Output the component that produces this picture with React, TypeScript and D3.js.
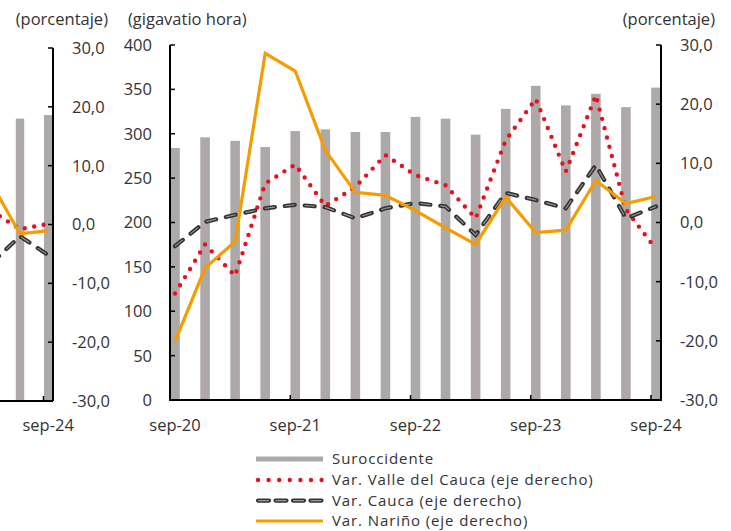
import React from "react";
import * as d3 from "d3";

// ---------- DATA ----------
const quarters = ["sep-20","dic-20","mar-21","jun-21","sep-21","dic-21","mar-22","jun-22","sep-22","dic-22","mar-23","jun-23","sep-23","dic-23","mar-24","jun-24","sep-24"];
const suroccidente = [284, 296, 292, 285, 303, 305, 302, 302, 319, 317, 299, 328, 354, 332, 345, 330, 352];
const varValle = [-12.0, -3.7, -9.0, 6.6, 9.8, 2.8, 6.0, 11.4, 8.0, 6.3, 0.7, 13.9, 20.9, 8.6, 21.5, 2.2, -4.5];
const varCauca = [-4.0, 0.1, 1.3, 2.4, 3.0, 2.6, 0.7, 2.4, 3.3, 2.7, -2.1, 5.0, 3.8, 2.4, 9.7, 0.7, 2.7];
const varNarino = [-20.1, -7.7, -3.2, 28.6, 25.6, 12.2, 5.1, 4.6, 2.0, -0.9, -3.7, 4.3, -1.7, -1.3, 7.1, 3.2, 4.4];
const yearTicks = ["sep-20","sep-21","sep-22","sep-23","sep-24"];
const leftTicks = [0, 50, 100, 150, 200, 250, 300, 350, 400];
const pctTicks = [30, 20, 10, 0, -10, -20, -30];

// previous (cropped) panel: mar-24 (off-canvas), jun-24, sep-24
const prevQuarters = ["mar-24","jun-24","sep-24"];
const prevBars = [330, 320, 324];
const prevValle = [2.3, -0.8, 0.1];
const prevCauca = [-6.5, -2.0, -5.2];
const prevNarino = [6.9, -1.6, -1.05];

const legendItems = ["Suroccidente","Var. Valle del Cauca (eje derecho)","Var. Cauca (eje derecho)","Var. Nariño (eje derecho)"];

// ---------- STYLE ----------
const FONT = "'Open Sans', 'Noto Sans', sans-serif";
const FS = 16.5;
const LFS = 15;
const BAR = "#ADA9A8";
const RED = "#E8101E";
const ORANGE = "#F59C00";
const DARK = "#333333";
const TXT = "#333333";

export default function App() {
  // main panel scales
  const x = d3.scaleLinear().domain([0, 49]).range([170, 661]);
  const yL = d3.scaleLinear().domain([0, 400]).range([400, 45]);
  const yR = d3.scaleLinear().domain([-30, 30]).range([400, 45]);
  const qx = (i: number) => x(i * 3 + 0.5);
  const barW = 9.6;

  // prev panel scales (month index, sep-24 month = 0)
  const px = d3.scaleLinear().domain([-1, 1]).range([43.5 - 9.4, 43.5 + 9.4]);
  const pxq = (i: number) => px((i - 2) * 3 + 0.5);
  const pyR = d3.scaleLinear().domain([-30, 30]).range([401, 48]);
  const pyL = d3.scaleLinear().domain([0, 400]).range([401, 48]);

  const lineMain = (vals: number[]) =>
    d3.line<number>().x((_, i) => qx(i)).y((v) => yR(v))(vals) || "";
  const linePrev = (vals: number[]) =>
    d3.line<number>().x((_, i) => pxq(i)).y((v) => pyR(v))(vals) || "";

  const dotted = { stroke: RED, strokeWidth: 4.4, strokeDasharray: "0 9.6", strokeLinecap: "round" as const, fill: "none" };
  const dashOuter = { stroke: DARK, strokeWidth: 4.2, strokeDasharray: "10 10", strokeLinecap: "round" as const, fill: "none" };
  const dashInner = { stroke: "#9a9a9a", strokeWidth: 1.1, strokeDasharray: "10 10", strokeLinecap: "butt" as const, fill: "none" };
  const solid = { stroke: ORANGE, strokeWidth: 3.2, strokeLinejoin: "miter" as const, fill: "none" };

  const legendY = [459, 480, 500.6, 521];

  return (
    <svg width={731} height={531} style={{ position: "absolute", left: 0, top: 0, background: "#fff" }} fontFamily={FONT}>
      {/* ---------- previous panel (cropped) ---------- */}
      <g>
        {prevBars.map((v, i) => (
          <rect key={i} x={pxq(i) - 4.2} y={pyL(v)} width={8.4} height={pyL(0) - pyL(v)} fill={BAR} />
        ))}
        <path d={linePrev(prevValle)} {...dotted} />
        <path d={linePrev(prevCauca)} {...dashOuter} />
        <path d={linePrev(prevCauca)} {...dashInner} />
        <path d={linePrev(prevNarino)} {...solid} />
        <line x1={-5} x2={53} y1={401} y2={401} stroke="#000" strokeWidth={2} />
        <line x1={px(0)} x2={px(0)} y1={401} y2={396} stroke="#000" strokeWidth={1.5} />
        <line x1={53} x2={53} y1={pyR(30)} y2={401} stroke="#000" strokeWidth={2} />
        {pctTicks.map((t) => (
          <g key={t}>
            <line x1={48} x2={53} y1={pyR(t)} y2={pyR(t)} stroke="#000" strokeWidth={1.5} />
            <text x={72} y={pyR(t)} dy="0.36em" fontSize={FS} fill={TXT}>{t.toFixed(1).replace(".", ",")}</text>
          </g>
        ))}
        <text x={108} y={25} textAnchor="end" fontSize={FS} fill={TXT}>(porcentaje)</text>
        <text x={pxq(2)} y={431} textAnchor="middle" fontSize={FS} fill={TXT}>{prevQuarters[2]}</text>
      </g>

      {/* ---------- main panel ---------- */}
      <g>
        {suroccidente.map((v, i) => (
          <rect key={quarters[i]} x={qx(i) - barW / 2} y={yL(v)} width={barW} height={yL(0) - yL(v)} fill={BAR} />
        ))}
        <path d={lineMain(varValle)} {...dotted} />
        <path d={lineMain(varCauca)} {...dashOuter} />
        <path d={lineMain(varCauca)} {...dashInner} />
        <path d={lineMain(varNarino)} {...solid} />

        {/* axes */}
        <line x1={170} x2={661} y1={400} y2={400} stroke="#000" strokeWidth={2} />
        {yearTicks.map((t, i) => (
          <g key={t}>
            <line x1={x(i * 12)} x2={x(i * 12)} y1={400} y2={395} stroke="#000" strokeWidth={1.5} />
            <text x={qx(i * 4)} y={431} textAnchor="middle" fontSize={FS} fill={TXT}>{t}</text>
          </g>
        ))}
        <line x1={170} x2={170} y1={yL(400)} y2={401} stroke="#000" strokeWidth={2} />
        {leftTicks.map((t) => (
          <g key={t}>
            <line x1={170} x2={175} y1={yL(t)} y2={yL(t)} stroke="#000" strokeWidth={1.5} />
            <text x={152} y={yL(t)} dy="0.36em" textAnchor="end" fontSize={FS} fill={TXT}>{t}</text>
          </g>
        ))}
        <line x1={661} x2={661} y1={yR(30)} y2={401} stroke="#000" strokeWidth={2} />
        {pctTicks.map((t) => (
          <g key={t}>
            <line x1={656} x2={661} y1={yR(t)} y2={yR(t)} stroke="#000" strokeWidth={1.5} />
            <text x={680} y={yR(t)} dy="0.36em" fontSize={FS} fill={TXT}>{t.toFixed(1).replace(".", ",")}</text>
          </g>
        ))}
        <text x={128} y={25} fontSize={FS} fill={TXT}>(gigavatio hora)</text>
        <text x={715} y={25} textAnchor="end" fontSize={FS} fill={TXT}>(porcentaje)</text>
      </g>

      {/* ---------- legend ---------- */}
      <g>
        <rect x={256} y={legendY[0] - 2.5} width={67} height={5} fill={BAR} />
        <line x1={258} x2={322} y1={legendY[1]} y2={legendY[1]} {...dotted} strokeDasharray="0 10.6" />
        <line x1={258} x2={322} y1={legendY[2]} y2={legendY[2]} {...dashOuter} strokeDasharray="11 6.5" />
        <line x1={258} x2={322} y1={legendY[2]} y2={legendY[2]} {...dashInner} strokeDasharray="11 6.5" />
        <line x1={256} x2={323} y1={legendY[3]} y2={legendY[3]} {...solid} />
        {legendItems.map((t, i) => (
          <text key={t} x={332} y={legendY[i]} dy="0.36em" fontSize={LFS} letterSpacing={0.9} fill={TXT}>{t}</text>
        ))}
      </g>
    </svg>
  );
}
